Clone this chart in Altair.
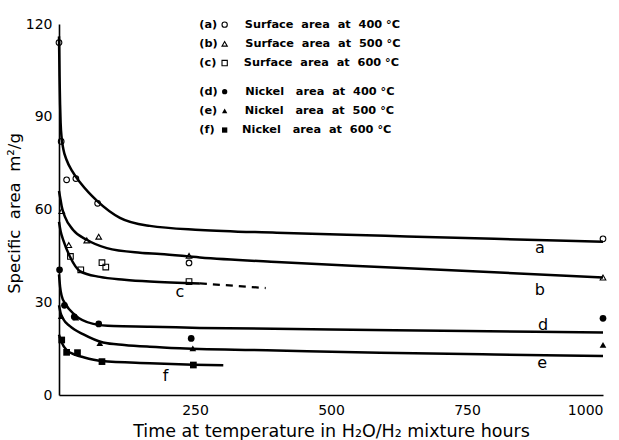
import altair as alt
import pandas as pd

FONT = "DejaVu Sans"
NB = "\u00a0"

# ---- fitted curves ----
a_x = [0, 1, 2, 3, 5, 8, 14, 24, 40, 70, 112, 167, 260, 400, 600, 800, 1000]
a_y = [116, 103, 94, 88, 83, 79.5, 76, 72.5, 68.5, 62.8, 57.3, 54.7, 53.4, 52.5, 51.5, 50.5, 49.6]
b_x = [0, 2, 5, 11, 26, 51, 88, 149, 186, 259, 400, 590, 800, 1000]
b_y = [66, 64, 61, 57.6, 53.4, 50.2, 47.5, 46, 45.6, 44.5, 43, 41.4, 39.7, 38]
c_x = [0, 3, 8, 20, 39, 75, 120, 167, 259]
c_y = [56, 53, 50, 44.8, 40, 38.2, 37.3, 36.7, 36.1]
c_dash_x = [259, 380]
c_dash_y = [36.1, 34.6]
d_x = [0, 2, 5, 11, 29, 63, 100, 167, 259, 500, 750, 1000]
d_y = [39, 35, 32, 29.7, 25.9, 23, 22.3, 22.1, 21.7, 21.2, 20.7, 20.2]
e_x = [0, 3, 8, 20, 45, 81, 120, 167, 222, 400, 590, 800, 1000]
e_y = [29, 26.5, 24.5, 22.3, 19.6, 17, 16.2, 15.6, 15.1, 14.4, 13.7, 13.1, 12.6]
f_x = [0, 5, 14, 30, 45, 78, 167, 247, 302]
f_y = [19.5, 17, 14.5, 13, 12.2, 11, 10.3, 9.8, 9.6]

# ---- measured points ----
pa_x = [0, 4, 14, 31, 71, 239, 1000]
pa_y = [114, 82, 69.6, 70, 62, 42.7, 50.5]
pb_x = [5, 18, 51, 73, 239, 1000]
pb_y = [59.5, 48.5, 50, 51.2, 45, 38]
pc_x = [21, 40, 79, 86, 239]
pc_y = [44.8, 40.5, 42.8, 41.4, 36.7]
pd_x = [1, 10, 28, 73, 243, 1000]
pd_y = [40.5, 29, 25.3, 23, 18.3, 24.8]
pe_x = [4, 31, 75, 246, 1000]
pe_y = [25.5, 25, 16.8, 15.1, 16.2]
pf_x = [5, 14, 34, 79, 247]
pf_y = [17.8, 13.8, 13.7, 10.8, 9.7]

surface_names = [
    f"(a){NB*7}Surface{NB*2}area{NB*2}at{NB*2}400{NB}°C",
    f"(b){NB*7}Surface{NB*2}area{NB*2}at{NB*2}500{NB}°C",
    f"(c){NB*7}Surface{NB*2}area{NB*2}at{NB*2}600{NB}°C",
]
nickel_names = [
    f"(d){NB*7}Nickel{NB*3}area{NB*2}at{NB*2}400{NB}°C",
    f"(e){NB*7}Nickel{NB*3}area{NB*2}at{NB*2}500{NB}°C",
    f"(f){NB*7}Nickel{NB*3}area{NB*2}at{NB*2}600{NB}°C",
]

curve_letters = ["a", "b", "c", "d", "e", "f"]
label_x = [884, 884, 222, 890, 888, 196]
label_y = [47.5, 34, 33.3, 22.7, 10.4, 6.2]

x_ticks = [250, 500, 750, 1000]
y_ticks = [0, 30, 60, 90, 120]

def frame(xs, ys, key, val):
    return pd.DataFrame({"x": xs, "y": ys, key: val})

curves = pd.concat([
    frame(a_x, a_y, "curve", "a"), frame(b_x, b_y, "curve", "b"),
    frame(c_x, c_y, "curve", "c"), frame(d_x, d_y, "curve", "d"),
    frame(e_x, e_y, "curve", "e"), frame(f_x, f_y, "curve", "f"),
])
dash_df = frame(c_dash_x, c_dash_y, "curve", "c")
surf_df = pd.concat([
    frame(pa_x, pa_y, "series", surface_names[0]),
    frame(pb_x, pb_y, "series", surface_names[1]),
    frame(pc_x, pc_y, "series", surface_names[2]),
])
nick_df = pd.concat([
    frame(pd_x, pd_y, "series", nickel_names[0]),
    frame(pe_x, pe_y, "series", nickel_names[1]),
    frame(pf_x, pf_y, "series", nickel_names[2]),
])
lab_df = pd.DataFrame({"x": label_x, "y": label_y, "t": curve_letters})

xsc = alt.Scale(domain=[0, 1000], nice=False)
ysc = alt.Scale(domain=[0, 120], nice=False)

x_enc = alt.X("x:Q", scale=xsc, axis=alt.Axis(
    values=x_ticks, format="d", title="Time at temperature in H₂O/H₂ mixture hours",
    labelPadding=8, titlePadding=5, titleFontSize=17.5))
y_enc = alt.Y("y:Q", scale=ysc, axis=alt.Axis(
    values=y_ticks, title=f"Specific{NB*2}area{NB*2}m²/g",
    labelPadding=7, titleX=-37, titleY=189, titleFontSize=16.5))

lines = alt.Chart(curves).mark_line(
    color="black", strokeWidth=2.5, interpolate="monotone"
).encode(x=x_enc, y=y_enc, detail="curve:N")

dashed = alt.Chart(dash_df).mark_line(
    color="black", strokeWidth=2.2, strokeDash=[7, 6]
).encode(x="x:Q", y="y:Q")

common_leg = dict(orient="none", title=None, padding=0, labelFont=FONT,
                  labelFontSize=11.3, labelFontWeight="bold", labelColor="black",
                  labelLimit=400, symbolSize=28, symbolStrokeWidth=1.1,
                  symbolStrokeColor="black", symbolOffset=29,
                  labelOffset={"expr": "-31"}, rowPadding=7.2)

surf = alt.Chart(surf_df).mark_point(
    filled=False, color="black", strokeWidth=1.1, size=32, opacity=1
).encode(
    x="x:Q", y="y:Q",
    shape=alt.Shape("series:N", scale=alt.Scale(domain=surface_names,
                    range=["circle", "triangle-up", "square"]),
                    legend=alt.Legend(legendX=131, legendY=-5,
                                      symbolFillColor="white", **common_leg)),
)

nick = alt.Chart(nick_df).mark_point(
    filled=True, color="black", size=45, opacity=1
).encode(
    x="x:Q", y="y:Q",
    shape=alt.Shape("series:N", scale=alt.Scale(domain=nickel_names,
                    range=["circle", "triangle-up", "square"]),
                    legend=alt.Legend(legendX=131, legendY=62,
                                      symbolFillColor="black", **common_leg)),
)

labels = alt.Chart(lab_df).mark_text(
    font=FONT, fontSize=16, color="black"
).encode(x="x:Q", y="y:Q", text="t:N")

chart = alt.layer(lines, dashed, surf, nick, labels).resolve_scale(
    shape="independent"
).resolve_legend(shape="independent").properties(
    width=544, height=371,
    padding={"left": 59, "top": 24, "right": 16, "bottom": 45},
    autosize=alt.AutoSizeParams(type="none"),
    background="white",
).configure_view(stroke=None).configure_axis(
    grid=False, ticks=False, domainColor="black", domainWidth=1.6,
    labelFont=FONT, labelFontSize=14, labelColor="black",
    titleFont=FONT, titleFontWeight="normal", titleColor="black",
)

chart.save("out.html", embed_options={"renderer": "svg", "actions": False})
